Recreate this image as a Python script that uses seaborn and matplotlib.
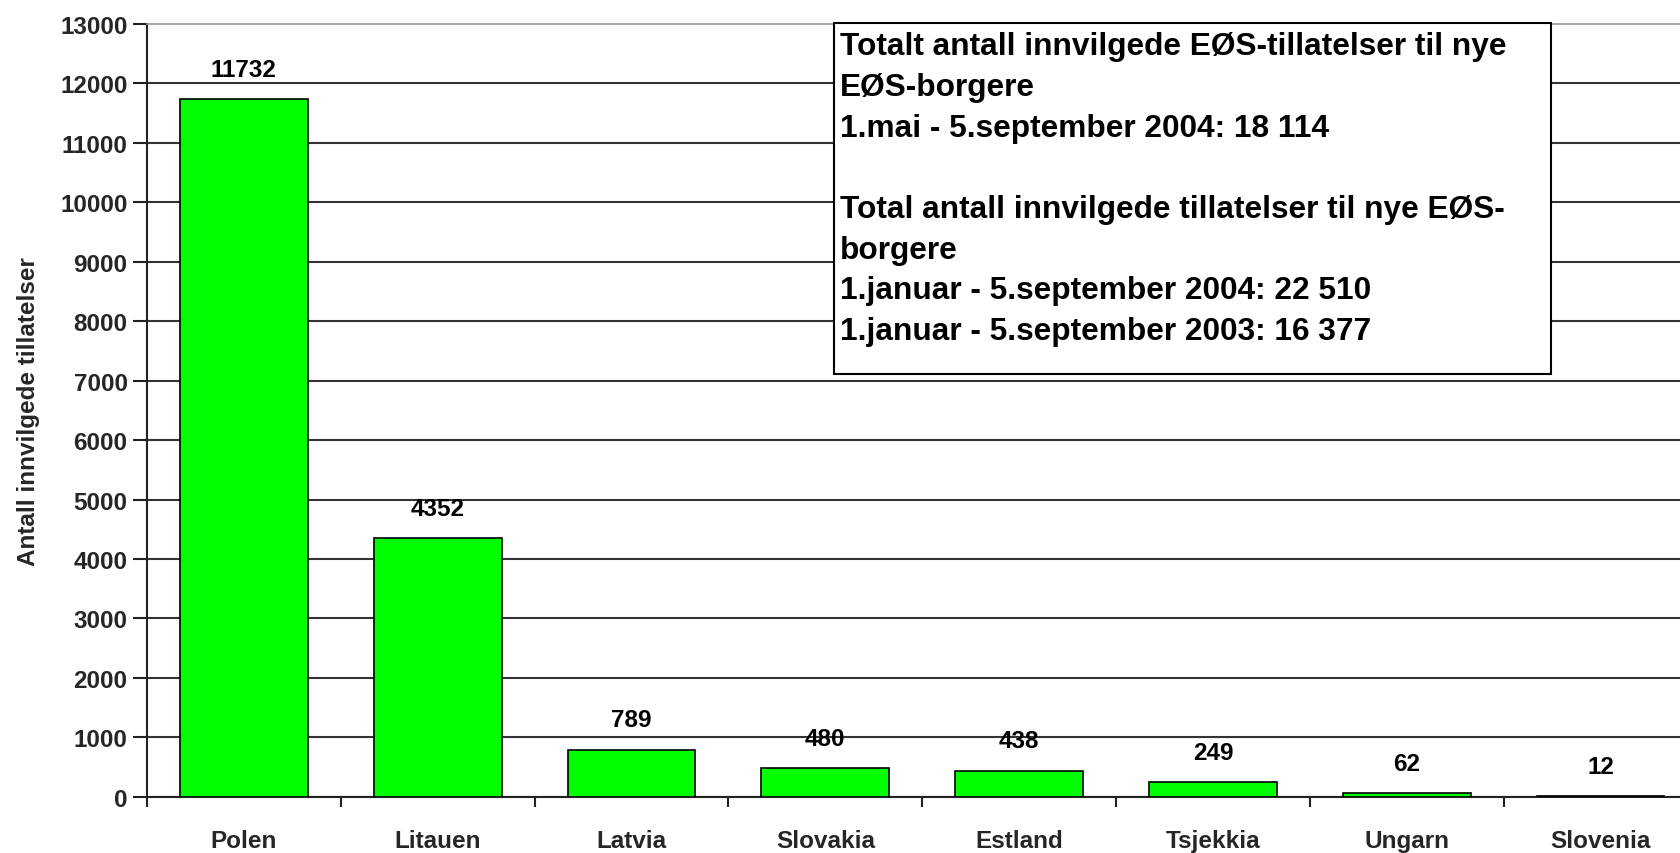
"""Innvilgede EOS-tillatelser per land, gjenskapt med seaborn."""

import matplotlib

matplotlib.use("Agg")
import matplotlib.pyplot as plt
import seaborn as sns
from matplotlib.patches import Rectangle
from matplotlib.ticker import FixedLocator


COUNTRIES = ["Polen", "Litauen", "Latvia", "Slovakia", "Estland", "Tsjekkia", "Ungarn", "Slovenia"]
PERMITS = [11732, 4352, 789, 480, 438, 249, 62, 12]
Y_TICKS = list(range(0, 13001, 1000))

BOX_LINES = [
    "Totalt antall innvilgede EØS-tillatelser til nye",
    "EØS-borgere",
    "1.mai - 5.september 2004: 18 114",
    "",
    "Total antall innvilgede tillatelser til nye EØS-",
    "borgere",
    "1.januar - 5.september 2004: 22 510",
    "1.januar - 5.september 2003: 16 377",
]

W, H = 1680, 854


def setup_style():
    sns.set_theme(style="white")
    plt.rcParams["font.family"] = ["Liberation Sans", "DejaVu Sans"]
    plt.rcParams["text.color"] = "black"


def draw_chart():
    fig = plt.figure(figsize=(W / 100, H / 100), dpi=100)
    fig.patch.set_facecolor("white")

    # axes runs past the right edge of the picture, like the cropped original
    left, right = 147, 1697.4
    top, bottom = 25, 797.7
    ax = fig.add_axes([left / W, 1 - bottom / H, (right - left) / W, (bottom - top) / H])

    sns.barplot(
        x=COUNTRIES,
        y=PERMITS,
        color="#00FF00",
        saturation=1,
        edgecolor="black",
        linewidth=1.2,
        width=0.66,
        ax=ax,
        zorder=3,
    )

    ax.set_xlim(-0.5, len(COUNTRIES) - 0.5)
    ax.set_ylim(0, 13000)
    ax.set_yticks(Y_TICKS)
    ax.set_yticklabels([str(t) for t in Y_TICKS], fontsize=17.5, fontweight="bold")

    # category names centred, tick marks between the categories
    ax.set_xticks(range(len(COUNTRIES)))
    ax.set_xticklabels(COUNTRIES, fontsize=17.5, fontweight="bold")
    ax.xaxis.set_minor_locator(FixedLocator([i - 0.5 for i in range(len(COUNTRIES) + 1)]))
    ax.tick_params(axis="x", which="major", length=0, pad=23)
    ax.tick_params(axis="x", which="minor", length=7, width=1.5, color="#222222", direction="out")
    ax.tick_params(axis="y", length=10, width=1.5, color="#222222", direction="out", pad=4)
    ax.xaxis.set_ticks_position("bottom")
    ax.yaxis.set_ticks_position("left")

    ax.yaxis.grid(True, color="#333333", linewidth=1.5, zorder=0)
    ax.set_axisbelow(True)
    ax.yaxis.get_gridlines()[-1].set_visible(False)

    for side in ["left", "bottom"]:
        ax.spines[side].set_color("#222222")
        ax.spines[side].set_linewidth(1.5)
    ax.spines["top"].set_color("#999999")
    ax.spines["top"].set_linewidth(1.2)
    ax.spines["right"].set_visible(False)

    ax.set_xlabel("")
    ax.set_ylabel("Antall innvilgede tillatelser", fontsize=17.5, fontweight="bold")
    ax.yaxis.set_label_coords((40 - left) / (right - left), 0.5)

    for i, value in enumerate(PERMITS):
        ax.annotate(
            str(value),
            xy=(i, value),
            xytext=(0, 21.5),
            textcoords="offset points",
            ha="center",
            va="center",
            fontsize=17.5,
            fontweight="bold",
            zorder=4,
        )

    # information box on top of the chart
    box_left, box_right, box_top, box_bottom = 834, 1551, 24, 375
    fig.add_artist(
        Rectangle(
            (box_left / W, 1 - box_bottom / H),
            (box_right - box_left) / W,
            (box_bottom - box_top) / H,
            transform=fig.transFigure,
            facecolor="white",
            edgecolor="black",
            linewidth=1.5,
            zorder=5,
        )
    )
    first_baseline, line_step = 55.3, 40.7
    for n, line in enumerate(BOX_LINES):
        fig.text(
            840 / W,
            1 - (first_baseline + n * line_step) / H,
            line,
            fontsize=22.8,
            fontweight="bold",
            ha="left",
            va="baseline",
            zorder=6,
        )

    fig.savefig("out.png", dpi=100)
    plt.close(fig)


def main():
    setup_style()
    draw_chart()


if __name__ == "__main__":
    main()
